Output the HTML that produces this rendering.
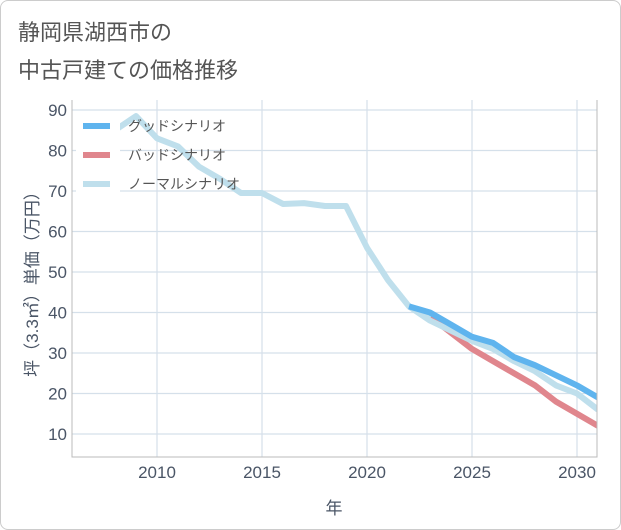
<!DOCTYPE html>
<html><head><meta charset="utf-8"><style>
body{margin:0;background:#fff;font-family:"Liberation Sans","Noto Sans CJK JP",sans-serif;}
.card{position:absolute;left:0;top:0;width:619px;height:528px;border:1px solid #ccc;border-radius:8px;background:#fff;}
</style></head><body>
<div class="card"></div>
<svg width="621" height="530" style="position:absolute;left:0;top:0" id="chart">
<text x="18" y="40" font-size="22" fill="#555" font-family="Liberation Sans,Noto Sans CJK JP,sans-serif">静岡県湖西市の</text>
<text x="18" y="78" font-size="22" fill="#555" font-family="Liberation Sans,Noto Sans CJK JP,sans-serif">中古戸建ての価格推移</text>
<g id="grid"></g><g id="series"></g><g id="axes"></g><g id="legend"></g>
</svg>
<script>
const years=[2008,2009,2010,2011,2012,2013,2014,2015,2016,2017,2018,2019,2020,2021,2022,2023];
const hist=[85,88.5,83,81,76,73,69.5,69.5,66.8,67,66.3,66.3,56,48,41.5,38.5];
const fYears=[2022,2023,2024,2025,2026,2027,2028,2029,2030,2031];
const good=[41.5,40,37,34,32.5,29,27,24.5,22,19];
const bad=[41.5,39,35,31,28,25,22,18,15,12];
const normal=[41.5,38,35.5,33,31,28,25.5,22,20,16];
const xTicks=[2010,2015,2020,2025,2030];
const yTicks=[10,20,30,40,50,60,70,80,90];
const NS='http://www.w3.org/2000/svg';
const L=72,R=597,T=100,B=457;
const TC='#4a5566';
function xs(v){return 157+(v-2010)*21;}
function ys(v){return 474.5-v*4.05;}
function mk(tag,attrs,parent){const e=document.createElementNS(NS,tag);for(const k in attrs)e.setAttribute(k,attrs[k]);parent.appendChild(e);return e;}
const grid=document.getElementById('grid'),axes=document.getElementById('axes'),ser=document.getElementById('series'),leg=document.getElementById('legend');
for(const t of xTicks){const l=mk('line',{x1:xs(t),x2:xs(t),y1:T,y2:B,stroke:'#d5e0ea','stroke-width':1.2},grid);


const tx=mk('text',{x:xs(t),y:478,'text-anchor':'middle','font-size':17,fill:TC},axes);tx.textContent=t;

}
for(const t of yTicks){const l=mk('line',{x1:L,x2:R,y1:ys(t),y2:ys(t),stroke:'#d5e0ea','stroke-width':1.2},grid);


const tx=mk('text',{x:67,y:ys(t)+6,'text-anchor':'end','font-size':17,fill:TC},axes);tx.textContent=t;

}
const ax=mk('path',{d:`M${L},${T} V${B} H${R} V${T}`,fill:'none',stroke:'#bbb','stroke-width':1},axes);


const xt=mk('text',{x:334,y:514,'text-anchor':'middle','font-size':17,fill:TC},axes);xt.textContent='年';


const yt=mk('text',{x:0,y:0,'text-anchor':'middle','font-size':17,fill:TC,transform:'translate(38,280) rotate(-90)'},axes);yt.textContent='坪（3.3㎡）単価（万円）';


function line(xv,yv,color,name){const d=xv.map((x,i)=>(i?'L':'M')+xs(x)+','+ys(yv[i])).join(' ');
const p=mk('path',{d:d,fill:'none',stroke:color,'stroke-width':6,'stroke-linejoin':'round','clip-path':'url(#clip)'},ser);

}
const defs=mk('defs',{},ser);const cp=mk('clipPath',{id:'clip'},defs);mk('rect',{x:L,y:T,width:R-L,height:B-T},cp);
line(fYears,bad,'#e0868d','bad-scenario-line');
line(years,hist,'#bfdfec','history-line');
line(fYears,normal,'#bfdfec','normal-scenario-line');
line(fYears,good,'#5fb4ee','good-scenario-line');
const items=[['グッドシナリオ','#5fb4ee'],['バッドシナリオ','#e0868d'],['ノーマルシナリオ','#bfdfec']];
items.forEach((it,i)=>{const y=126+i*29;
const g=mk('g',{},leg);


mk('rect',{x:76,y:y-12,width:44,height:24,fill:'#fff'},g);
mk('line',{x1:83,x2:110,y1:y,y2:y,stroke:it[1],'stroke-width':6},g);
const t=mk('text',{x:128,y:y+5,'font-size':14,fill:'#555'},g);t.textContent=it[0];});
</script>
</body></html>
